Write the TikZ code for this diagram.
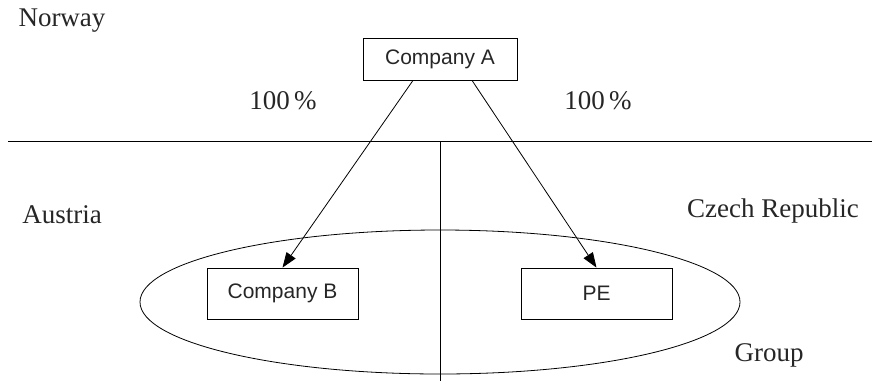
\documentclass[tikz,border=0pt]{standalone}
\usepackage{fontspec}
\setmainfont{Liberation Serif}
\newfontfamily\boxfont{Liberation Sans}
\usetikzlibrary{arrows.meta,shapes.geometric}
\begin{document}
\begin{tikzpicture}[x=1pt,y=-1pt,
  line width=0.8pt,
  company/.style={draw, rectangle, inner sep=0pt, font=\boxfont\fontsize{21}{24}\selectfont, text=black!85},
  label/.style={inner sep=0pt, font=\fontsize{27}{30}\selectfont, text=black!85},
  own/.style={-{Triangle[length=15pt,width=11pt]}}]
\useasboundingbox (0,0) rectangle (880,381);
% regions
\coordinate (hl) at (8,141);
\coordinate (hr) at (872,141);
\coordinate (vt) at (440,141);
\coordinate (vb) at (440,381);
\draw (hl) -- (hr);
\draw (vt) -- (vb);
% group ellipse
\node[draw, ellipse, minimum width=600pt, minimum height=144pt, inner sep=0pt] (group) at (440,302) {};
% companies
\node[company, minimum width=154pt, minimum height=42pt] (A) at (440,59) {Company A};
\node[company, minimum width=151pt, minimum height=51pt] (B) at (282.5,293.5) {Company B};
\node[company, minimum width=151pt, minimum height=51pt] (PE) at (596.5,293.5) {PE};
% arrows
\draw[own] ([xshift=-27pt]A.south) -- (B.north);
\draw[own] ([xshift=32pt]A.south) -- (PE.north);
% labels
\node[label] (norway) at (62,21) {Norway};
\node[label] (pl) at (283,101) {100\,\%};
\node[label] (pr) at (598,101) {100\,\%};
\node[label] (austria) at (62,215) {Austria};
\node[label] (czech) at (773,211) {Czech Republic};
\node[label] (grp) at (769,355) {Group};
\end{tikzpicture}
\end{document}
